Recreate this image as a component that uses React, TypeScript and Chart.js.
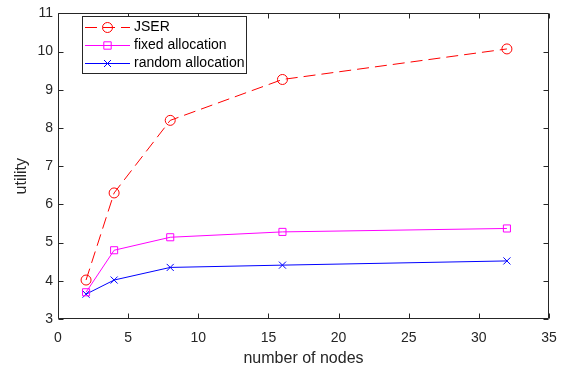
import React, { useEffect, useRef } from 'react';
import { Chart, registerables } from 'chart.js';

Chart.register(...registerables);

const nodes = [2, 4, 8, 16, 32];
const jser = [4.02, 6.3, 8.2, 9.27, 10.07];
const fixedAlloc = [3.7, 4.8, 5.14, 5.28, 5.37];
const randomAlloc = [3.65, 4.02, 4.35, 4.41, 4.52];
const seriesLabels = ['JSER', 'fixed allocation', 'random allocation'];
const xTickValues = [0, 5, 10, 15, 20, 25, 30, 35];
const yTickValues = [3, 4, 5, 6, 7, 8, 9, 10, 11];
const xTitle = 'number of nodes';
const yTitle = 'utility';

const AXIS = '#262626';
const FONT = '"Liberation Sans", Arial, Helvetica, sans-serif';

function drawMarker(ctx: CanvasRenderingContext2D, style: string, x: number, y: number, color: string) {
  ctx.save();
  ctx.strokeStyle = color;
  ctx.lineWidth = 1;
  ctx.setLineDash([]);
  ctx.beginPath();
  if (style === 'circle') {
    ctx.arc(x, y, 5, 0, Math.PI * 2);
  } else if (style === 'rect') {
    ctx.rect(x - 3.7, y - 3.7, 7.4, 7.4);
  } else {
    ctx.moveTo(x - 3.5, y - 3.5);
    ctx.lineTo(x + 3.5, y + 3.5);
    ctx.moveTo(x + 3.5, y - 3.5);
    ctx.lineTo(x - 3.5, y + 3.5);
  }
  ctx.stroke();
  ctx.restore();
}

const framePlugin = {
  id: 'matlabFrame',
  afterDraw(chart: any) {
    const ctx: CanvasRenderingContext2D = chart.ctx;
    const { left, right, top, bottom } = chart.chartArea;
    const xs = chart.scales.x;
    const ys = chart.scales.y;
    ctx.save();
    ctx.strokeStyle = AXIS;
    ctx.lineWidth = 1;
    ctx.setLineDash([]);
    const L = Math.round(left) + 0.5;
    const R = Math.round(right) - 0.5;
    const T = Math.round(top) + 0.5;
    const B = Math.round(bottom) - 0.5;
    ctx.beginPath();
    ctx.rect(L, T, R - L, B - T);
    ctx.stroke();
    ctx.beginPath();
    xTickValues.forEach((v) => {
      const px = Math.round(xs.getPixelForValue(v)) + 0.5;
      ctx.moveTo(px, B);
      ctx.lineTo(px, B - 5);
      ctx.moveTo(px, T);
      ctx.lineTo(px, T + 5);
    });
    yTickValues.forEach((v) => {
      const py = Math.round(ys.getPixelForValue(v)) + 0.5;
      ctx.moveTo(L, py);
      ctx.lineTo(L + 5, py);
      ctx.moveTo(R, py);
      ctx.lineTo(R - 5, py);
    });
    ctx.stroke();

    // axis titles
    ctx.fillStyle = AXIS;
    ctx.font = `16px ${FONT}`;
    ctx.textAlign = 'center';
    ctx.textBaseline = 'middle';
    ctx.fillText(xTitle, (left + right) / 2, 359);
    ctx.save();
    ctx.translate(22, (top + bottom) / 2 + 10);
    ctx.rotate(-Math.PI / 2);
    ctx.fillText(yTitle, 0, 0);
    ctx.restore();

    // legend
    const bx = 82.5, by = 16.5, bw = 164, bh = 57;
    ctx.fillStyle = '#ffffff';
    ctx.fillRect(bx, by, bw, bh);
    ctx.strokeStyle = AXIS;
    ctx.strokeRect(bx, by, bw, bh);
    const rows = [27.5, 45.5, 63.5];
    chart.data.datasets.forEach((ds: any, i: number) => {
      const y = rows[i];
      ctx.save();
      ctx.strokeStyle = ds.borderColor;
      ctx.lineWidth = 1;
      ctx.setLineDash(ds.borderDash || []);
      ctx.beginPath();
      ctx.moveTo(85, y);
      ctx.lineTo(130, y);
      ctx.stroke();
      ctx.restore();
      drawMarker(ctx, ds.pointStyle, 107.5, y, ds.borderColor);
      ctx.fillStyle = '#000000';
      ctx.textAlign = 'left';
      ctx.textBaseline = 'middle';
      ctx.font = `14px ${FONT}`;
      ctx.fillText(ds.label, 134, y);
    });
    ctx.restore();
  },
};

export default function App() {
  const ref = useRef<HTMLCanvasElement | null>(null);
  useEffect(() => {
    document.body.style.margin = '0';
    if (!ref.current) return;
    const mk = (label: string, data: number[], color: string, style: string, dash: number[]) => ({
      label,
      data: data.map((y, i) => ({ x: nodes[i], y })),
      borderColor: color,
      backgroundColor: color,
      borderWidth: 1,
      borderDash: dash,
      pointStyle: style,
      pointRadius: 5,
      pointBorderWidth: 1,
      pointBorderColor: color,
      pointBackgroundColor: 'rgba(0,0,0,0)',
      tension: 0,
      fill: false,
    });
    const chart = new Chart(ref.current, {
      type: 'line',
      data: {
        datasets: [
          mk(seriesLabels[0], jser, '#ff0000', 'circle', [12, 6]),
          mk(seriesLabels[1], fixedAlloc, '#ff00ff', 'rect', []),
          mk(seriesLabels[2], randomAlloc, '#0000ff', 'crossRot', []),
        ],
      },
      plugins: [framePlugin],
      options: {
        animation: false,
        responsive: false,
        layout: { padding: { top: 10, right: 19, left: 0, bottom: 0 } },
        plugins: { legend: { display: false }, tooltip: { enabled: false } },
        scales: {
          x: {
            type: 'linear',
            min: 0,
            max: 35,
            afterFit: (s: any) => { s.height = 53; },
            afterBuildTicks: (s: any) => { s.ticks = xTickValues.map((v) => ({ value: v })); },
            grid: { display: false, drawTicks: false },
            border: { display: false },
            ticks: { color: AXIS, font: { family: FONT, size: 14 }, padding: 11, maxRotation: 0 },
          },
          y: {
            type: 'linear',
            min: 3,
            max: 11,
            afterFit: (s: any) => { s.width = 58; },
            afterBuildTicks: (s: any) => { s.ticks = yTickValues.map((v) => ({ value: v })); },
            grid: { display: false, drawTicks: false },
            border: { display: false },
            ticks: { color: AXIS, font: { family: FONT, size: 14 }, padding: 5 },
          },
        },
      },
    });
    return () => chart.destroy();
  }, []);
  return (
    <div style={{ width: 568, height: 372, background: '#fff' }}>
      <canvas ref={ref} width={568} height={372} />
    </div>
  );
}
